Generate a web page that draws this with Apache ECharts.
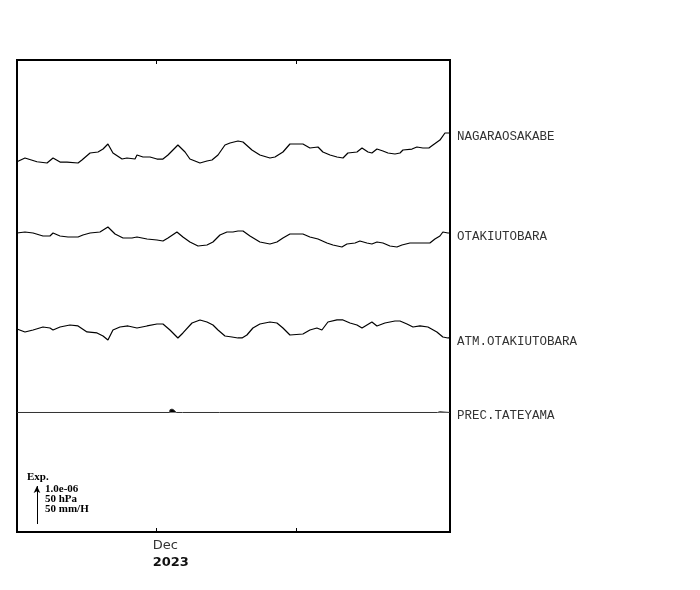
<!DOCTYPE html>
<html><head><meta charset="utf-8">
<script src="https://cdn.jsdelivr.net/npm/echarts@6/dist/echarts.min.js"></script>
<style>html,body{margin:0;padding:0;background:#fff}#c{width:700px;height:590px}</style>
</head><body><div id="c"></div>
<script>
// time axis: days since 2023-11-21 00:00 ; Dec 1 = day 10, Dec 11 = day 20
const tickDays = [10, 20];
const tickLabels = ['Dec\n{y|2023}', ''];
const seriesNames = ['NAGARAOSAKABE', 'OTAKIUTOBARA', 'ATM.OTAKIUTOBARA', 'PREC.TATEYAMA'];

// NAGARAOSAKABE strain (x1e-8)
const nagaraDays = [0,0.57,1.43,2.15,2.58,3.08,3.58,4.37,4.65,5.23,5.80,6.16,6.51,6.87,7.52,7.87,8.45,8.59,9.02,9.52,10.02,10.45,10.81,11.52,12.03,12.38,13.10,13.60,13.96,14.39,14.89,15.25,15.82,16.18,16.82,17.39,18.11,18.47,19.04,19.54,20.47,20.97,21.55,21.90,22.41,22.91,23.34,23.69,24.34,24.70,25.13,25.41,25.77,26.20,26.56,27.06,27.42,27.63,28.28,28.63,29.06,29.49,29.78,30.28,30.64,31.00];
const nagaraStrain = [-4.5,5.3,-4.5,-7.9,5.3,-5.3,-5.3,-7.9,0,18.4,21.1,28.9,42.1,18.4,2.6,5.3,2.6,13.2,7.9,7.9,2.6,2.6,13.2,39.5,21.1,2.6,-7.9,-2.6,0,13.2,39.5,44.7,50.0,47.4,26.3,13.2,5.3,7.9,21.1,42.1,42.1,31.6,34.2,21.1,13.2,7.9,5.3,18.4,21.1,31.6,21.1,18.4,28.9,23.7,18.4,15.8,18.4,26.3,28.9,34.2,31.6,31.6,39.5,52.6,71.1,71.1];

// OTAKIUTOBARA strain (x1e-8)
const otakiDays = [0,0.57,1.15,1.86,2.36,2.58,3.08,3.65,4.37,4.72,5.23,5.94,6.51,7.02,7.59,8.23,8.59,9.31,10.02,10.45,10.81,11.45,11.88,12.38,12.96,13.60,14.03,14.53,15.03,15.46,15.82,16.18,16.68,17.39,18.11,18.61,19.04,19.54,20.47,20.97,21.55,22.19,22.62,23.26,23.62,24.20,24.55,25.05,25.41,25.77,26.20,26.70,27.20,27.56,28.13,28.63,29.06,29.56,29.92,30.28,30.49,30.85,31.0];
const otakiStrain = [10.5,13.2,10.5,2.6,2.6,10.5,2.6,0,0,5.3,10.5,13.2,26.3,7.9,-2.6,-2.6,0,-5.3,-7.9,-10.5,-2.6,13.2,0,-13.2,-23.7,-21.1,-13.2,5.3,13.2,13.2,15.8,15.8,2.6,-13.2,-18.4,-13.2,-2.6,7.9,7.9,0,-5.3,-15.8,-21.1,-26.3,-18.4,-15.8,-10.5,-15.8,-18.4,-13.2,-15.8,-23.7,-26.3,-21.1,-15.8,-15.8,-15.8,-15.8,-5.3,2.6,13.2,10.5,10.5];

// ATM.OTAKIUTOBARA pressure anomaly (hPa)
const atmDays = [0,0.57,1.15,1.86,2.36,2.58,3.08,3.79,4.37,5.01,5.73,6.16,6.51,6.87,7.37,7.95,8.59,9.31,10.02,10.45,10.95,11.52,11.88,12.53,13.10,13.60,14.03,14.39,14.89,15.39,15.82,16.11,16.46,16.89,17.39,18.11,18.61,19.04,19.54,20.47,20.97,21.47,21.83,22.26,22.91,23.34,23.84,24.34,24.70,25.41,25.77,26.34,27.06,27.42,27.92,28.35,28.85,29.42,30.06,30.49,30.85,31.0];
const atmHpa = [1.3,-2.6,0,3.9,2.6,0,3.9,6.6,5.3,-2.6,-3.9,-7.9,-13.2,0,3.9,5.3,2.6,5.3,7.9,7.9,0,-10.5,-3.9,9.2,13.2,10.5,6.6,0,-7.9,-9.2,-10.5,-10.5,-6.6,2.6,7.9,10.5,9.2,2.6,-6.6,-5.3,0,2.6,0,10.5,13.2,13.2,9.2,6.6,2.6,10.5,5.3,9.2,11.8,11.8,7.9,3.9,5.3,3.9,-2.6,-9.2,-10.5,-10.5];

// PREC.TATEYAMA rainfall rate (mm/h)
const precDays = [0,10.93,10.95,11.05,11.1,11.2,11.25,11.35,11.4,11.85,11.87,11.95,11.97,14.5,14.52,14.6,14.62,30.1,30.12,30.22,30.26,30.36,30.4,31];
const precRate = [0,0,3.5,3.5,4.5,4.5,3,3,0,0,1.5,1.5,0,0,1.5,1.5,0,0,2.5,2.5,1,2.5,0,0];

// plot units: 100 per scale bar (1.0e-06 strain / 50 hPa / 50 mm/H)
const unitFactor = [1, 1, 2, 2];
const traceBase = [978.9, 776.3, 531.6, 314.5];
const yMax = 1242.1;
const scaleBar = [1.43, 21, 100];   // day, bottom, length
const scaleTexts = ['Exp.', '1.0e-06\n50 hPa\n50 mm/H'];

const chart = echarts.init(document.getElementById('c'), null, {renderer: 'canvas'});
const sets = [[nagaraDays, nagaraStrain],[otakiDays, otakiStrain],[atmDays, atmHpa],[precDays, precRate]];
const series = sets.map((s, k) => ({
  type: 'line', name: seriesNames[k],
  data: s[0].map((d, i) => [d, traceBase[k] + s[1][i] * unitFactor[k]]),
  symbol: 'none', showSymbol: false, animation: false, silent: true,
  lineStyle: {color: k === 3 ? '#333' : '#000', width: k === 3 ? 1 : 1.2},
  areaStyle: k === 3 ? {color: '#000', opacity: 1, origin: traceBase[3]} : undefined,
  endLabel: {show: true, formatter: seriesNames[k], distance: 7, offset: [0, 3.5],
    fontFamily: 'Liberation Mono', fontSize: 12.5, color: '#333'}
}));
series[0].markLine = {
  silent: true, animation: false, symbol: ['none', 'arrow'], symbolSize: [5, 7],
  lineStyle: {color: '#000', width: 1, type: 'solid'}, label: {show: false},
  data: [[{coord: [scaleBar[0], scaleBar[1]]}, {coord: [scaleBar[0], scaleBar[1] + scaleBar[2]]}]]
};

const tickCommon = {show: true, inside: true, length: 4, customValues: tickDays, lineStyle: {color: '#000', width: 1}};
chart.setOption({
  animation: false,
  backgroundColor: '#fff',
  grid: {left: 17, top: 60, width: 433, height: 472, show: true, borderColor: '#000', borderWidth: 2, backgroundColor: 'transparent'},
  xAxis: [
    {type: 'value', min: 0, max: 31, position: 'bottom', axisLine: {show: false}, splitLine: {show: false},
     axisTick: tickCommon,
     axisLabel: {customValues: [tickDays[0]], formatter: () => tickLabels[0], align: 'left', margin: 5,
       padding: [0, 0, 0, -4],
       fontFamily: 'DejaVu Sans', fontSize: 13, color: '#333', lineHeight: 17,
       rich: {y: {fontFamily: 'DejaVu Sans', fontSize: 13, fontWeight: 'bold', color: '#111', lineHeight: 17}}}},
    {type: 'value', min: 0, max: 31, position: 'top', axisLine: {show: false}, splitLine: {show: false},
     axisTick: tickCommon, axisLabel: {show: false}}
  ],
  yAxis: {type: 'value', min: 0, max: yMax, show: false},
  series: series,
  graphic: [
    {type: 'text', left: 27, top: 472, style: {text: scaleTexts[0], font: 'bold 11px "Liberation Serif"', fill: '#000'}},
    {type: 'text', left: 45, top: 484, style: {text: scaleTexts[1], font: 'bold 11px "Liberation Serif"', fill: '#000', lineHeight: 10}}
  ]
});
</script></body></html>
